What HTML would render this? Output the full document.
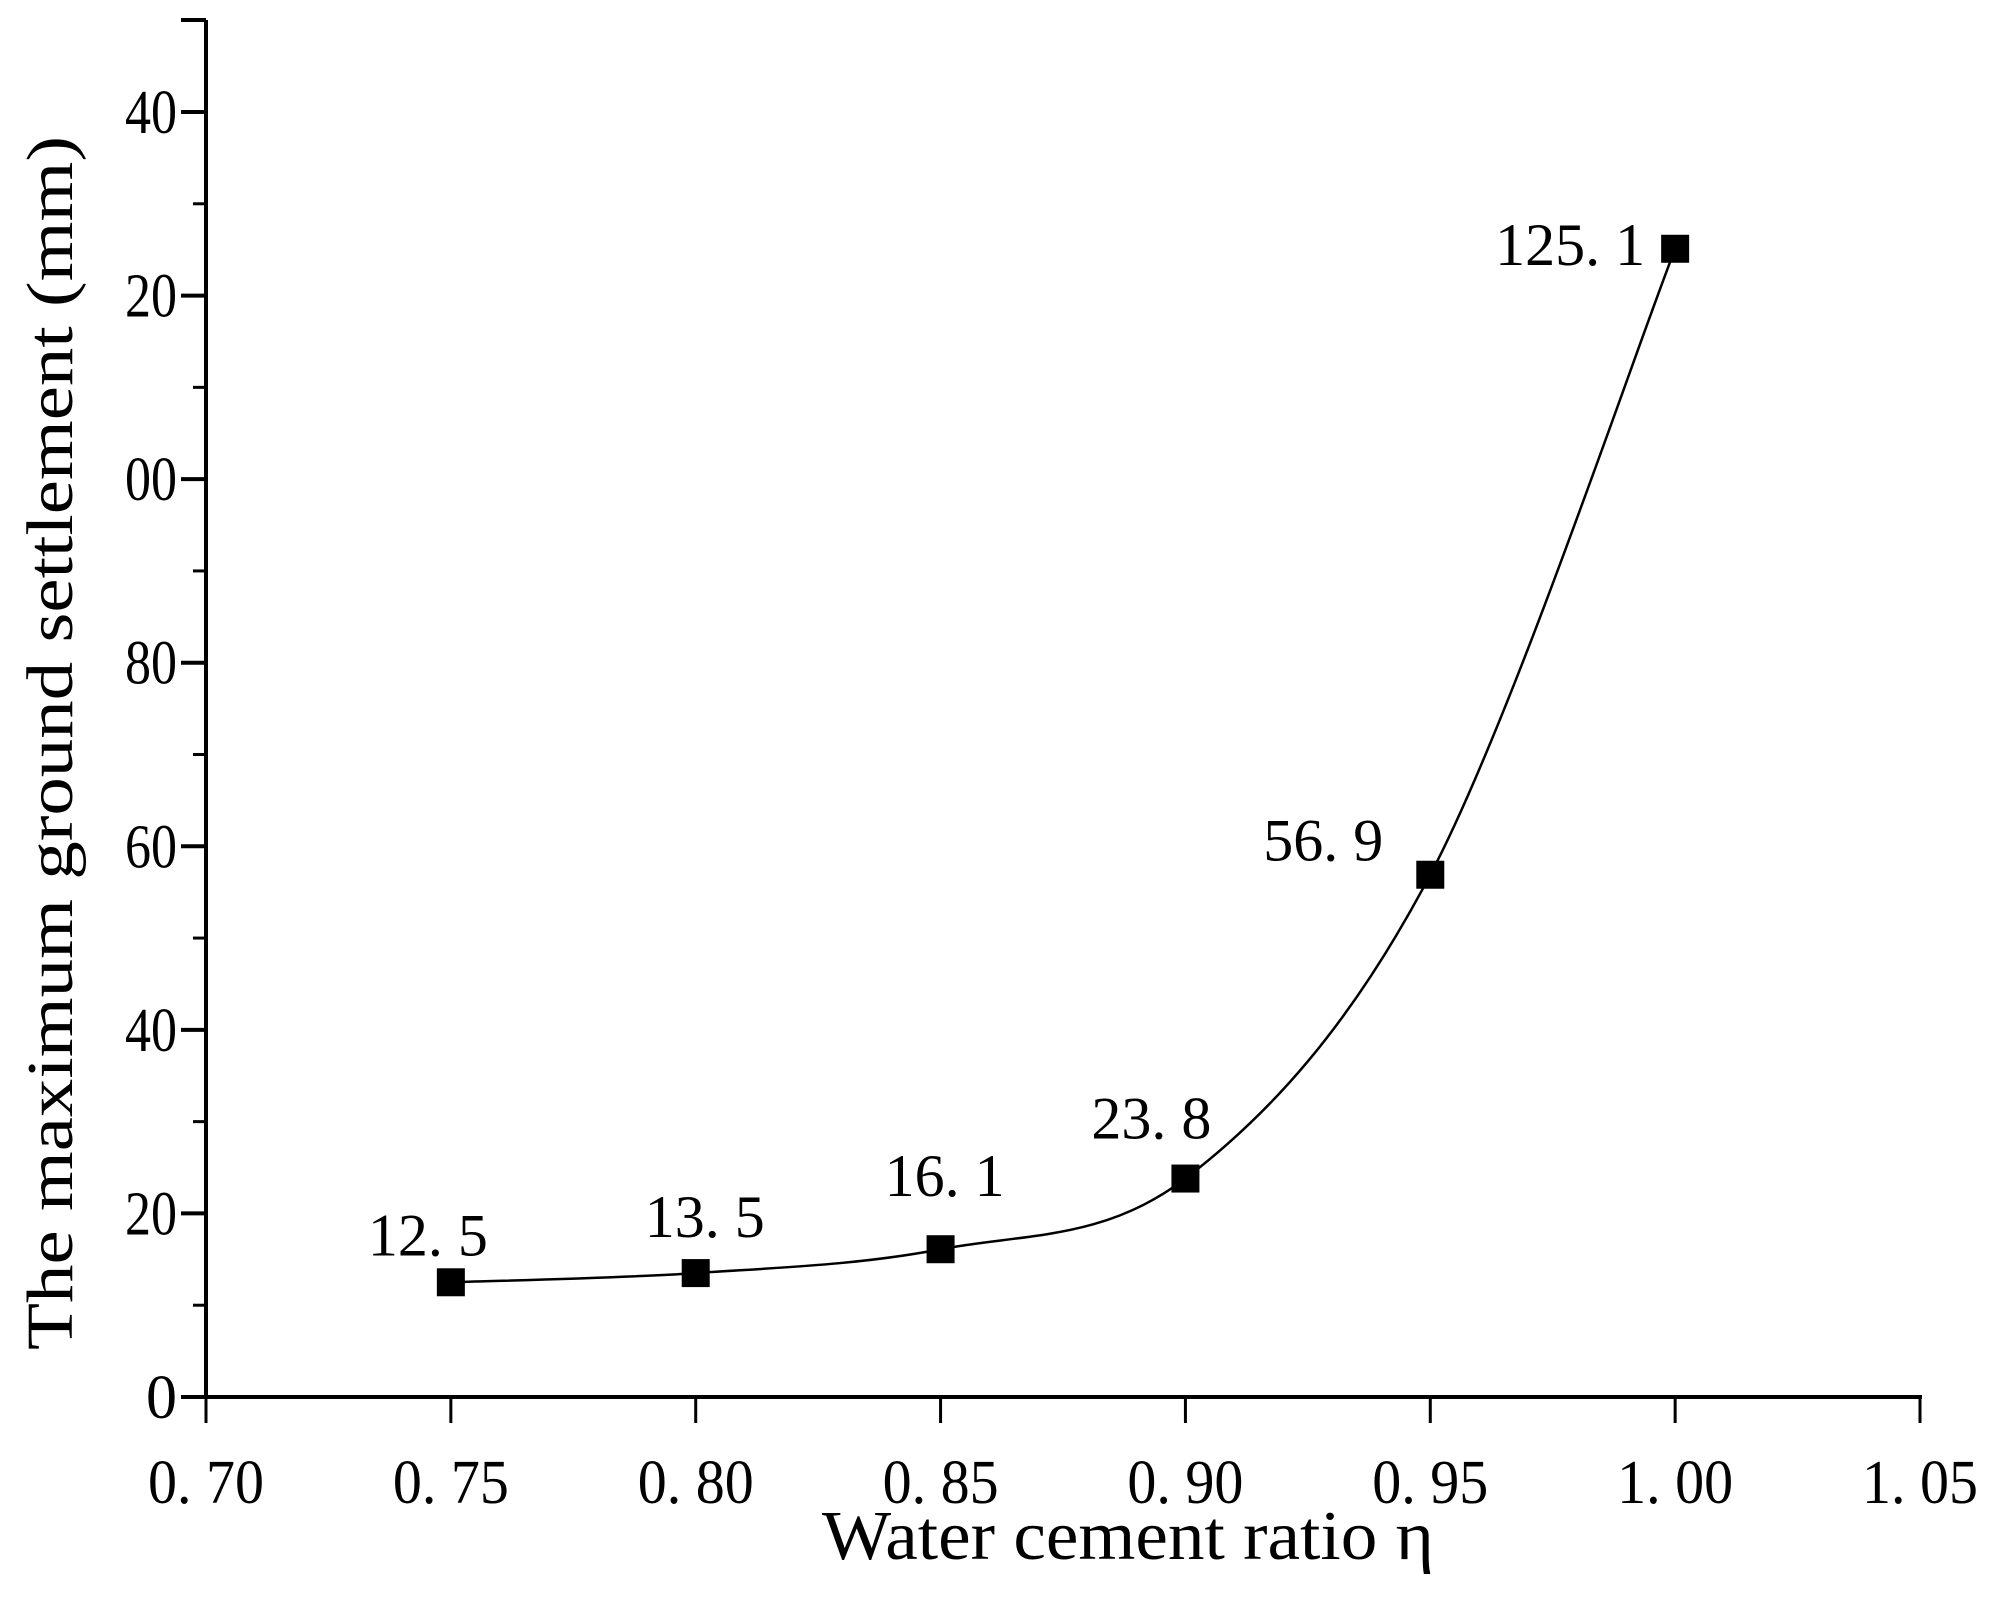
<!DOCTYPE html>
<html><head><meta charset="utf-8"><style>html,body{margin:0;padding:0;background:#fff}svg{display:block}</style></head>
<body>
<svg id="chart" width="2015" height="1604" viewBox="0 0 2015 1604" xmlns="http://www.w3.org/2000/svg" font-family="'Liberation Serif', serif">
<g id="axes"></g>
<g id="series"></g>
<text transform="translate(72,743) rotate(-90)" text-anchor="middle" font-size="66" textLength="1214" lengthAdjust="spacingAndGlyphs">The maximum ground settlement (mm)</text>
<text x="1128" y="1559" text-anchor="middle" font-size="70" textLength="612" lengthAdjust="spacingAndGlyphs">Water cement ratio η</text>
</svg>
<script>
const categories = [0.75, 0.80, 0.85, 0.90, 0.95, 1.00];
const settlement = [12.5, 13.5, 16.1, 23.8, 56.9, 125.1];
const valueLabels = ["12. 5", "13. 5", "16. 1", "23. 8", "56. 9", "125. 1"];
const xTicks = [0.70, 0.75, 0.80, 0.85, 0.90, 0.95, 1.00, 1.05];
const xTickLabels = ["0. 70", "0. 75", "0. 80", "0. 85", "0. 90", "0. 95", "1. 00", "1. 05"];
const yTicks = [0, 20, 40, 60, 80, 100, 120, 140];
const yTickLabels = ["0", "20", "40", "60", "80", "00", "20", "40"];
const yMinor = [10, 30, 50, 70, 90, 110, 130];
const labelDx = [-23, 9, 4, -34, -107, -105];
const labelDy = [-27, -36, -53, -40, -14, 16];

const X0 = 206, X1 = 1920, Y0 = 1397, Y1 = 112;
const x = v => X0 + (v - 0.70) / 0.35 * (X1 - X0);
const y = v => Y0 - v / 140 * (Y0 - Y1);
const NS = "http://www.w3.org/2000/svg";
const axes = document.getElementById('axes');
const series = document.getElementById('series');
function mk(tag, attrs, parent) {
  const e = document.createElementNS(NS, tag);
  for (const k in attrs) e.setAttribute(k, attrs[k]);
  parent.appendChild(e);
  return e;
}
let e;
e = mk('line', {x1: X0, y1: Y0, x2: X0, y2: 20, stroke: '#000', 'stroke-width': 4}, axes);


e = mk('line', {x1: X0 - 25, y1: Y0, x2: X1 + 2, y2: Y0, stroke: '#000', 'stroke-width': 4}, axes);


e = mk('line', {x1: X0, y1: 20, x2: X0 - 25, y2: 20, stroke: '#000', 'stroke-width': 4}, axes);


xTicks.forEach((t, i) => {
  const l = mk('line', {x1: x(t), y1: Y0, x2: x(t), y2: Y0 + 26, stroke: '#000', 'stroke-width': 3}, axes);
  
  
  const tx = mk('text', {x: x(t), y: 1503, 'text-anchor': 'middle', 'font-size': 62, textLength: 116, lengthAdjust: 'spacingAndGlyphs'}, axes);
  tx.textContent = xTickLabels[i];
  
  
});
yTicks.forEach((t, i) => {
  const l = mk('line', {x1: X0, y1: y(t), x2: X0 - 25, y2: y(t), stroke: '#000', 'stroke-width': 4}, axes);
  
  
  const attrs = {x: 177, y: y(t) + 21, 'text-anchor': 'end', 'font-size': 62};
  if (yTickLabels[i].length === 2) { attrs.textLength = 52; attrs.lengthAdjust = 'spacingAndGlyphs'; }
  const tx = mk('text', attrs, axes);
  tx.textContent = yTickLabels[i];
  
  
});
yMinor.forEach(t => {
  const l = mk('line', {x1: X0, y1: y(t), x2: X0 - 13, y2: y(t), stroke: '#000', 'stroke-width': 3}, axes);
  
  
});
const pts = categories.map((c, i) => [x(c), y(settlement[i])]);
let d = `M${pts[0][0]},${pts[0][1]}`;
for (let i = 0; i < pts.length - 1; i++) {
  const p0 = pts[Math.max(0, i - 1)], p1 = pts[i], p2 = pts[i + 1], p3 = pts[Math.min(pts.length - 1, i + 2)];
  const c1 = [p1[0] + (p2[0] - p0[0]) / 6, p1[1] + (p2[1] - p0[1]) / 6];
  const c2 = [p2[0] - (p3[0] - p1[0]) / 6, p2[1] - (p3[1] - p1[1]) / 6];
  d += ` C${c1[0]},${c1[1]} ${c2[0]},${c2[1]} ${p2[0]},${p2[1]}`;
}
e = mk('path', {d: d, fill: 'none', stroke: '#000', 'stroke-width': 2.5}, series);


pts.forEach((p, i) => {
  const r = mk('rect', {x: p[0] - 14, y: p[1] - 14, width: 28, height: 28, fill: '#000'}, series);
  
  
  const tx = mk('text', {x: p[0] + labelDx[i], y: p[1] + labelDy[i], 'text-anchor': 'middle', 'font-size': 60}, series);
  tx.textContent = valueLabels[i];
  
  
});
</script>
</body></html>
